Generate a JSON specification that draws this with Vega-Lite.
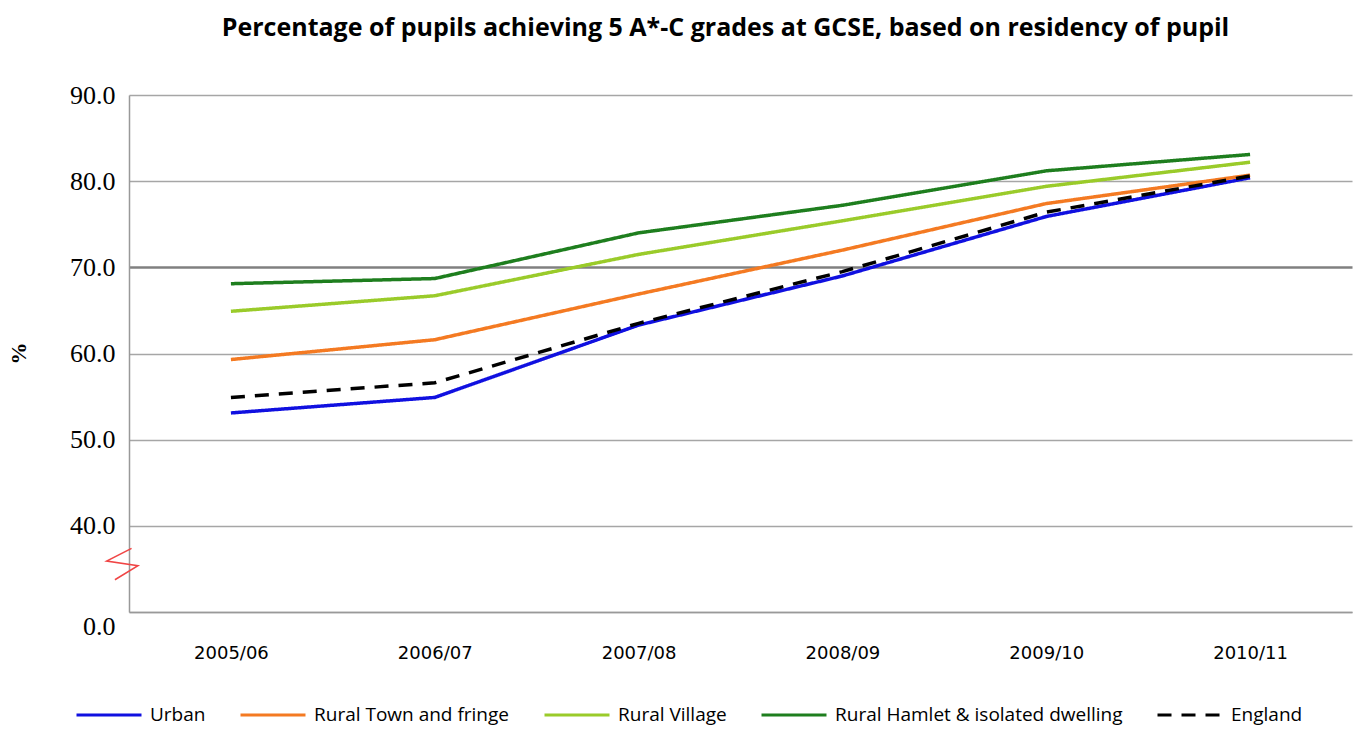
{
  "$schema": "https://vega.github.io/schema/vega-lite/v6.json",
  "width": 1223,
  "height": 517,
  "autosize": {"type": "none"},
  "padding": {"left": 129, "top": 95, "right": 10, "bottom": 117},
  "background": "white",
  "title": {
    "text": "Percentage of pupils achieving 5 A*-C grades at GCSE, based on residency of pupil",
    "font": "Open Sans",
    "fontSize": 25,
    "fontWeight": "bold",
    "color": "#000000",
    "anchor": "middle",
    "offset": 41,
    "dx": -15
  },
  "config": {"view": {"stroke": null}},
  "layer": [
    {
      "data": {
        "values": [
          {"year": "2005/06", "series": "Urban", "value": 53.1},
          {"year": "2006/07", "series": "Urban", "value": 54.9},
          {"year": "2007/08", "series": "Urban", "value": 63.3},
          {"year": "2008/09", "series": "Urban", "value": 69.0},
          {"year": "2009/10", "series": "Urban", "value": 75.9},
          {"year": "2010/11", "series": "Urban", "value": 80.4},
          {"year": "2005/06", "series": "Rural Town and fringe", "value": 59.3},
          {"year": "2006/07", "series": "Rural Town and fringe", "value": 61.6},
          {"year": "2007/08", "series": "Rural Town and fringe", "value": 66.9},
          {"year": "2008/09", "series": "Rural Town and fringe", "value": 72.0},
          {"year": "2009/10", "series": "Rural Town and fringe", "value": 77.4},
          {"year": "2010/11", "series": "Rural Town and fringe", "value": 80.7},
          {"year": "2005/06", "series": "Rural Village", "value": 64.9},
          {"year": "2006/07", "series": "Rural Village", "value": 66.7},
          {"year": "2007/08", "series": "Rural Village", "value": 71.5},
          {"year": "2008/09", "series": "Rural Village", "value": 75.4},
          {"year": "2009/10", "series": "Rural Village", "value": 79.4},
          {"year": "2010/11", "series": "Rural Village", "value": 82.2},
          {"year": "2005/06", "series": "Rural Hamlet & isolated dwelling", "value": 68.1},
          {"year": "2006/07", "series": "Rural Hamlet & isolated dwelling", "value": 68.7},
          {"year": "2007/08", "series": "Rural Hamlet & isolated dwelling", "value": 74.0},
          {"year": "2008/09", "series": "Rural Hamlet & isolated dwelling", "value": 77.2},
          {"year": "2009/10", "series": "Rural Hamlet & isolated dwelling", "value": 81.2},
          {"year": "2010/11", "series": "Rural Hamlet & isolated dwelling", "value": 83.1},
          {"year": "2005/06", "series": "England", "value": 54.9},
          {"year": "2006/07", "series": "England", "value": 56.6},
          {"year": "2007/08", "series": "England", "value": 63.5},
          {"year": "2008/09", "series": "England", "value": 69.5},
          {"year": "2009/10", "series": "England", "value": 76.4},
          {"year": "2010/11", "series": "England", "value": 80.6}
        ]
      },
      "mark": {"type": "line", "strokeWidth": 3.5},
      "encoding": {
        "x": {
          "field": "year",
          "type": "ordinal",
          "sort": null,
          "scale": {"type": "point", "padding": 0.5},
          "axis": {
            "title": null,
            "labelFont": "DejaVu Sans",
            "labelFontSize": 18,
            "labelColor": "#000000",
            "labelPadding": 32,
            "labelAngle": 0,
            "ticks": false,
            "grid": false,
            "domainColor": "#999999",
            "domainWidth": 1.5
          }
        },
        "y": {
          "field": "value",
          "type": "quantitative",
          "scale": {"domain": [30, 90], "nice": false, "zero": false},
          "axis": {
            "values": [30, 40, 50, 60, 70, 80, 90],
            "labelExpr": "datum.value == 30 ? '0.0' : format(datum.value, '.1f')",
            "labelFont": "Liberation Serif",
            "labelFontSize": 26,
            "labelColor": "#000000",
            "labelPadding": 14,
            "labelOffset": {"condition": {"test": "datum.value == 30", "value": 14}, "value": 0},
            "ticks": false,
            "domainColor": "#999999",
            "domainWidth": 1.5,
            "grid": true,
            "gridColor": {"condition": {"test": "datum.value == 70", "value": "#808080"}, "value": "#a6a6a6"},
            "gridWidth": {"condition": {"test": "datum.value == 70", "value": 2.5}, "value": 1.5},
            "gridOpacity": 1,
            "title": "%",
            "titleFont": "Liberation Serif",
            "titleFontSize": 22,
            "titleFontWeight": "bold",
            "titleColor": "#000000",
            "titleX": -111,
            "titleY": 258,
            "titleAngle": -90,
            "titleAlign": "center",
            "titleBaseline": "middle"
          }
        },
        "color": {
          "field": "series",
          "type": "nominal",
          "sort": null,
          "scale": {
            "domain": ["Urban", "Rural Town and fringe", "Rural Village", "Rural Hamlet & isolated dwelling", "England"],
            "range": ["#1010e0", "#f47a22", "#9acb2a", "#1e7e1e", "#000000"]
          },
          "legend": {
            "title": null,
            "orient": "none",
            "legendX": -54,
            "legendY": 586,
            "direction": "horizontal",
            "symbolType": "stroke",
            "symbolSize": 4225,
            "symbolStrokeWidth": 3,
            "labelFont": "Open Sans",
            "labelFontSize": 19,
            "labelLimit": 0,
            "labelColor": "#000000",
            "labelOffset": 7,
            "columnPadding": 28
          }
        },
        "strokeDash": {
          "field": "series",
          "type": "nominal",
          "sort": null,
          "scale": {
            "domain": ["Urban", "Rural Town and fringe", "Rural Village", "Rural Hamlet & isolated dwelling", "England"],
            "range": [[1, 0], [1, 0], [1, 0], [1, 0], [14, 10]]
          },
          "legend": {
            "title": null,
            "orient": "none",
            "legendX": -54,
            "legendY": 586,
            "direction": "horizontal",
            "symbolType": "stroke",
            "symbolSize": 4225,
            "symbolStrokeWidth": 3,
            "labelFont": "Open Sans",
            "labelFontSize": 19,
            "labelLimit": 0,
            "labelColor": "#000000",
            "labelOffset": 7,
            "columnPadding": 28
          }
        }
      }
    },
    {
      "data": {"values": [{"v": 35.6}]},
      "mark": {
        "type": "point",
        "shape": "M0.16,-0.96L-1.4,-0.17L0.56,0.12L-0.88,1",
        "size": 1024,
        "filled": false,
        "stroke": "#f04545",
        "strokeWidth": 1.5,
        "opacity": 1
      },
      "encoding": {
        "x": {"value": 0},
        "y": {"field": "v", "type": "quantitative"}
      }
    }
  ]
}
